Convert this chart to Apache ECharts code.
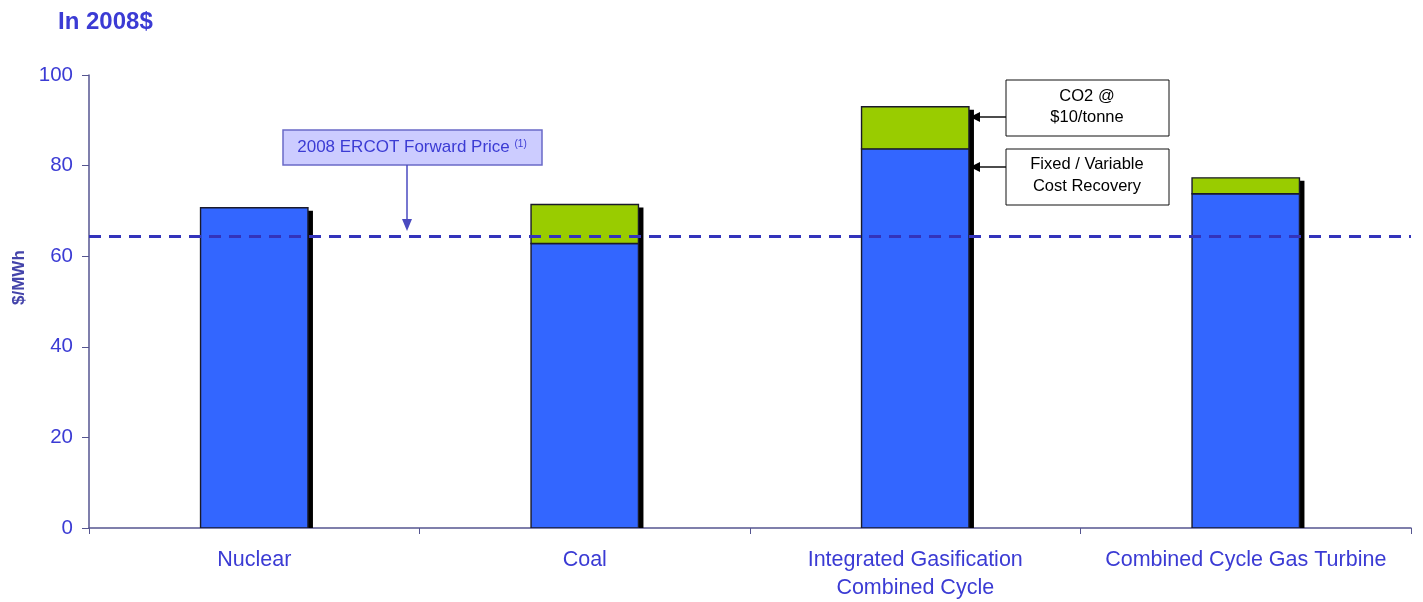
<!DOCTYPE html>
<html><head><meta charset="utf-8">
<script src="https://cdn.jsdelivr.net/npm/echarts@6/dist/echarts.min.js"></script>
<style>html,body{margin:0;padding:0;background:#fff}#c{width:1423px;height:602px}</style>
</head><body><div id="c"></div>
<script>
const categories = ['Nuclear', 'Coal', 'Integrated Gasification\nCombined Cycle', 'Combined Cycle Gas Turbine'];
const costRecovery = [70.7, 62.8, 83.7, 73.8];
const co2Cost = [0, 8.6, 9.3, 3.5];
const forwardPrice = 64.5;
const yTicks = {min: 0, max: 100, interval: 20};

const FONT = '"Liberation Sans", Arial, sans-serif';
const BLUE_TXT = '#3b3bd4';
const AXIS_C = '#555590';
const chart = echarts.init(document.getElementById('c'));

const barData = categories.map((c, i) => [i, costRecovery[i], co2Cost[i]]);

function renderBar(params, api) {
  const i = api.value(0), blue = api.value(1), green = api.value(2);
  const base = api.coord([i, 0]);
  const pBlue = api.coord([i, blue]);
  const pTop = api.coord([i, blue + green]);
  const w = api.size([1, 0])[0] * 0.325;
  const x = base[0] - w / 2;
  const children = [
    {type: 'rect', shape: {x: x + 5, y: pTop[1] + 3, width: w, height: base[1] - pTop[1] - 3}, style: {fill: '#000'}},
    {type: 'rect', shape: {x: x, y: pBlue[1], width: w, height: base[1] - pBlue[1]}, style: {fill: '#3366ff', stroke: '#1a1a2a', lineWidth: 1.4}}
  ];
  if (green > 0) {
    children.push({type: 'rect', shape: {x: x, y: pTop[1], width: w, height: pBlue[1] - pTop[1]}, style: {fill: '#99cc00', stroke: '#1a1a2a', lineWidth: 1.4}});
  }
  return {type: 'group', children};
}

chart.setOption({
  animation: false,
  backgroundColor: '#fff',
  title: {text: 'In 2008$', left: 53, top: 5, textStyle: {fontFamily: FONT, fontSize: 24, fontWeight: 'bold', color: BLUE_TXT}},
  grid: {left: 89, right: 12, top: 75, bottom: 73},
  xAxis: {
    type: 'category', data: categories,
    axisLine: {lineStyle: {color: AXIS_C, width: 1.5}},
    axisTick: {show: true, length: 6, lineStyle: {color: AXIS_C}},
    axisLabel: {fontFamily: FONT, fontSize: 21.5, color: BLUE_TXT, margin: 18, lineHeight: 28, interval: 0}
  },
  yAxis: {
    type: 'value', min: yTicks.min, max: yTicks.max, interval: yTicks.interval,
    axisLine: {show: true, lineStyle: {color: AXIS_C, width: 1.5}},
    axisTick: {show: true, length: 7, lineStyle: {color: AXIS_C}},
    splitLine: {show: false},
    axisLabel: {fontFamily: FONT, fontSize: 20.5, color: BLUE_TXT, margin: 16}
  },
  series: [
    {
      type: 'custom', renderItem: renderBar, data: barData,
      encode: {x: 0, y: [1, 2]}, clip: true,
      markLine: {
        symbol: 'none', silent: true, label: {show: false},
        lineStyle: {color: '#3333bb', type: [12, 8], width: 3},
        data: [{yAxis: forwardPrice}]
      }
    }
  ],
  graphic: [
    {type: 'text', x: 11, y: 305, rotation: Math.PI / 2, style: {text: '$/MWh', font: 'bold 17px ' + FONT, fill: '#4444aa'}},
    {type: 'rect', shape: {x: 283, y: 130, width: 259, height: 35}, style: {fill: '#ccccff', stroke: '#6a6ac8', lineWidth: 1.5}},
    {type: 'text', x: 412, y: 147.5, style: {text: '{a|2008 ERCOT Forward Price }{b|(1)}', align: 'center', verticalAlign: 'middle',
      rich: {a: {fontFamily: FONT, fontSize: 17, fill: BLUE_TXT}, b: {fontFamily: FONT, fontSize: 10, fill: BLUE_TXT, verticalAlign: 'top', padding: [0,0,6,0]}}}},
    {type: 'line', shape: {x1: 407, y1: 165, x2: 407, y2: 222}, style: {stroke: '#4a4ac0', lineWidth: 1.5}},
    {type: 'polygon', shape: {points: [[402, 219], [412, 219], [407, 231]]}, style: {fill: '#4a4ac0'}},
    {type: 'rect', shape: {x: 1006, y: 80, width: 163, height: 56}, style: {fill: '#fff', stroke: '#111', lineWidth: 1}},
    {type: 'text', x: 1087, y: 107, style: {text: 'CO2 @\n$10/tonne', align: 'center', verticalAlign: 'middle', font: '16.5px ' + FONT, lineHeight: 21, fill: '#000'}},
    {type: 'rect', shape: {x: 1006, y: 149, width: 163, height: 56}, style: {fill: '#fff', stroke: '#111', lineWidth: 1}},
    {type: 'text', x: 1087, y: 175, style: {text: 'Fixed / Variable\nCost Recovery', align: 'center', verticalAlign: 'middle', font: '16.5px ' + FONT, lineHeight: 22, fill: '#000'}},
    {type: 'line', shape: {x1: 978, y1: 117, x2: 1006, y2: 117}, style: {stroke: '#111', lineWidth: 1.5}},
    {type: 'polygon', shape: {points: [[970, 117], [980, 112], [980, 122]]}, style: {fill: '#000'}},
    {type: 'line', shape: {x1: 978, y1: 167, x2: 1006, y2: 167}, style: {stroke: '#111', lineWidth: 1.5}},
    {type: 'polygon', shape: {points: [[970, 167], [980, 162], [980, 172]]}, style: {fill: '#000'}}
  ]
});
</script></body></html>
